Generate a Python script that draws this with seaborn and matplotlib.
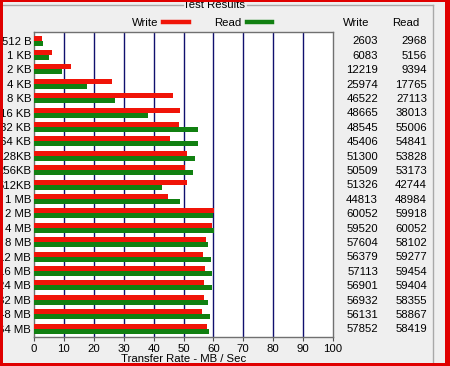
import numpy as np
import pandas as pd
import matplotlib
matplotlib.use("Agg")
import matplotlib.pyplot as plt
import matplotlib.transforms as mtransforms
from matplotlib.patches import Rectangle
from matplotlib.lines import Line2D
import seaborn as sns

# ATTO-style benchmark results (KB/s as shown in the table)
sizes = ["512 B", "1 KB", "2 KB", "4 KB", "8 KB", "16 KB", "32 KB", "64 KB",
         "128KB", "256KB", "512KB", "1 MB", "2 MB", "4 MB", "8 MB", "12 MB",
         "16 MB", "24 MB", "32 MB", "48 MB", "64 MB"]
write_kb = [2603, 6083, 12219, 25974, 46522, 48665, 48545, 45406, 51300, 50509,
            51326, 44813, 60052, 59520, 57604, 56379, 57113, 56901, 56932, 56131, 57852]
read_kb = [2968, 5156, 9394, 17765, 27113, 38013, 55006, 54841, 53828, 53173,
           42744, 48984, 59918, 60052, 58102, 59277, 59454, 59404, 58355, 58867, 58419]
x_ticks = [0, 10, 20, 30, 40, 50, 60, 70, 80, 90, 100]

RED = "#f01408"
GREEN = "#118011"
BG = "#efefef"

df = pd.DataFrame({
    "size": sizes * 2,
    "test": ["Write"] * len(sizes) + ["Read"] * len(sizes),
    "rate": [v / 1000 for v in write_kb + read_kb],
})

W, H = 450, 366
fig = plt.figure(figsize=(W / 100, H / 100), dpi=100, facecolor=BG)
plt.rcParams["font.family"] = ["Liberation Sans", "DejaVu Sans"]
fs = 8.2

ax = fig.add_axes([34 / W, 1 - 337 / H, (333 - 34) / W, (337 - 32) / H])
ax.set_facecolor("white")

sns.barplot(data=df, x="rate", y="size", hue="test", order=sizes,
            hue_order=["Write", "Read"], palette=[RED, GREEN], orient="h",
            width=0.7, saturation=1, legend=False, ax=ax, zorder=3)

ax.set_xlim(0, 100)
ax.set_ylim(20.58, -0.6)
ax.set_xticks(x_ticks)
ax.set_xticklabels([str(t) for t in x_ticks], fontsize=fs)
ax.tick_params(axis="y", length=0, labelsize=fs, pad=2)
ax.tick_params(axis="x", length=3, pad=2, color="#505050")
for t in x_ticks[1:-1]:
    ax.axvline(t, color="#10106e", lw=1, zorder=1)
ax.set_ylabel("")
ax.set_xlabel("Transfer Rate - MB / Sec", fontsize=fs, labelpad=0)
for sp in ax.spines.values():
    sp.set_color("#707070")
    sp.set_linewidth(1)

# value table on the right
tr = mtransforms.blended_transform_factory(fig.transFigure, ax.transData)
for i, (w, r) in enumerate(zip(write_kb, read_kb)):
    fig.text(378 / W, i + 0.05, str(w), transform=tr, ha="right", va="center", fontsize=fs)
    fig.text(427 / W, i + 0.05, str(r), transform=tr, ha="right", va="center", fontsize=fs)
fig.text(343 / W, 1 - 23 / H, "Write", ha="left", va="center", fontsize=fs)
fig.text(392 / W, 1 - 23 / H, "Read", ha="left", va="center", fontsize=fs)

# legend and group box title
fig.text(132 / W, 1 - 23 / H, "Write", ha="left", va="center", fontsize=fs)
fig.add_artist(Line2D([163 / W, 189 / W], [1 - 22 / H] * 2, color=RED, lw=3.2))
fig.text(214 / W, 1 - 23 / H, "Read", ha="left", va="center", fontsize=fs)
fig.add_artist(Line2D([247 / W, 272 / W], [1 - 22 / H] * 2, color=GREEN, lw=3.2))

fig.add_artist(Line2D([0, 183 / W], [1 - 4.5 / H] * 2, color="#a8a8a8", lw=1))
fig.add_artist(Line2D([247 / W, 433 / W], [1 - 4.5 / H] * 2, color="#a8a8a8", lw=1))
fig.add_artist(Line2D([433 / W, 433 / W], [1 - 4.5 / H, 0], color="#a8a8a8", lw=1))
fig.text(214 / W, 1 - 5 / H, "Test Results", ha="center", va="center", fontsize=fs)

# red window border
for rect in [(0, 0, 3 / W, 1), (0, 0, 1, 3.5 / H), (445 / W, 0, 5 / W, 1), (0, 1 - 2 / H, 1, 2 / H)]:
    fig.add_artist(Rectangle(rect[:2], rect[2], rect[3], transform=fig.transFigure,
                             facecolor="#e00000", edgecolor="none", zorder=10))

fig.savefig("out.png", dpi=100, facecolor=BG)
